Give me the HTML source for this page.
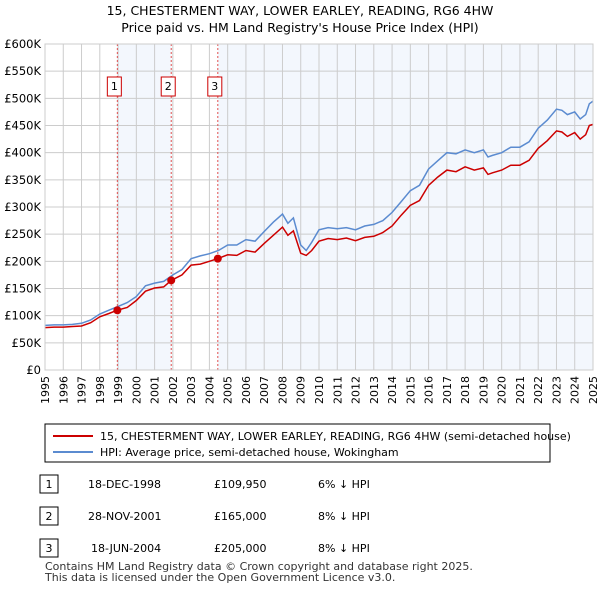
<!DOCTYPE html>
<html><head><meta charset="utf-8"><style>
body{margin:0;width:600px;height:590px;background:#fff;font-family:"Liberation Sans","DejaVu Sans",sans-serif;overflow:hidden}
svg text{font-family:"DejaVu Sans","Liberation Sans",sans-serif}
</style></head><body>
<svg id="c" width="600" height="590">
<text x="300" y="15" text-anchor="middle" font-size="12.5">15, CHESTERMENT WAY, LOWER EARLEY, READING, RG6 4HW</text>
<text x="300" y="32" text-anchor="middle" font-size="12.5">Price paid vs. HM Land Registry's House Price Index (HPI)</text>
<g id="plot"></g>
<rect x="45" y="424" width="505" height="38" fill="#fff" stroke="#000"/>
<line x1="53" y1="436" x2="93" y2="436" stroke="#cc0000" stroke-width="2"/>
<text x="100" y="440" font-size="11">15, CHESTERMENT WAY, LOWER EARLEY, READING, RG6 4HW (semi-detached house)</text>
<line x1="53" y1="452" x2="93" y2="452" stroke="#5b8bd0" stroke-width="2"/>
<text x="100" y="456" font-size="11">HPI: Average price, semi-detached house, Wokingham</text>
<g font-size="11">
<rect x="40" y="475" width="18" height="18" fill="#fff" stroke="#000"/><text x="49" y="488" text-anchor="middle">1</text>
<text x="88" y="488">18-DEC-1998</text><text x="214" y="488">£109,950</text><text x="318" y="488">6% ↓ HPI</text>
<rect x="40" y="507" width="18" height="18" fill="#fff" stroke="#000"/><text x="49" y="520" text-anchor="middle">2</text>
<text x="88" y="520">28-NOV-2001</text><text x="214" y="520">£165,000</text><text x="318" y="520">8% ↓ HPI</text>
<rect x="40" y="539" width="18" height="18" fill="#fff" stroke="#000"/><text x="49" y="552" text-anchor="middle">3</text>
<text x="91" y="552">18-JUN-2004</text><text x="214" y="552">£205,000</text><text x="318" y="552">8% ↓ HPI</text>
</g>
<text x="45" y="570" font-size="11" fill="#333">Contains HM Land Registry data © Crown copyright and database right 2025.</text>
<text x="45" y="581" font-size="11" fill="#333">This data is licensed under the Open Government Licence v3.0.</text>
</svg>
<script>
const hpiYears=[1995,1995.5,1996,1996.5,1997,1997.5,1998,1998.5,1999,1999.5,2000,2000.5,2001,2001.5,2002,2002.5,2003,2003.5,2004,2004.5,2005,2005.5,2006,2006.5,2007,2007.5,2008,2008.3,2008.6,2009,2009.3,2009.6,2010,2010.5,2011,2011.5,2012,2012.5,2013,2013.5,2014,2014.5,2015,2015.5,2016,2016.5,2017,2017.5,2018,2018.5,2019,2019.25,2019.5,2020,2020.5,2021,2021.5,2022,2022.5,2023,2023.3,2023.6,2024,2024.3,2024.6,2024.8,2025];
const hpiValues=[82,83,83,84,86,92,103,110,117,124,135,155,160,163,175,185,205,210,214,220,230,230,240,237,255,272,287,270,280,230,220,235,258,262,260,262,258,265,268,275,290,310,330,340,370,385,400,398,405,400,405,392,395,400,410,410,420,445,460,480,478,470,475,462,470,490,495];
const priceYears=[1995,1995.5,1996,1996.5,1997,1997.5,1998,1998.5,1998.96,1999.5,2000,2000.5,2001,2001.5,2001.91,2002.5,2003,2003.5,2004,2004.46,2005,2005.5,2006,2006.5,2007,2007.5,2008,2008.3,2008.6,2009,2009.3,2009.6,2010,2010.5,2011,2011.5,2012,2012.5,2013,2013.5,2014,2014.5,2015,2015.5,2016,2016.5,2017,2017.5,2018,2018.5,2019,2019.25,2019.5,2020,2020.5,2021,2021.5,2022,2022.5,2023,2023.3,2023.6,2024,2024.3,2024.6,2024.8,2025];
const priceValues=[78,79,79,80,81,87,98,104,110,115,128,145,151,153,165,175,193,195,200,205,212,211,220,217,233,248,263,248,256,215,211,220,237,242,240,243,238,244,246,253,265,285,303,312,340,355,368,365,374,368,372,360,363,368,377,377,386,408,422,440,438,430,437,425,433,450,452];
const saleYears=[1998.96,2001.91,2004.46];
const saleValues=[109.95,165,205];
const saleLabels=["1","2","3"];
const yTicks=[0,50,100,150,200,250,300,350,400,450,500,550,600];
const yTickLabels=["£0","£50K","£100K","£150K","£200K","£250K","£300K","£350K","£400K","£450K","£500K","£550K","£600K"];
const xTicks=[1995,1996,1997,1998,1999,2000,2001,2002,2003,2004,2005,2006,2007,2008,2009,2010,2011,2012,2013,2014,2015,2016,2017,2018,2019,2020,2021,2022,2023,2024,2025];
const L=45,R=593,T=44,B=370;
const X=y=>L+(y-1995)/30*(R-L);
const Y=v=>B-v/600*(B-T);
const g=document.getElementById('plot');
const NS='http://www.w3.org/2000/svg';
function mk(t,a){const e=document.createElementNS(NS,t);for(const k in a)e.setAttribute(k,a[k]);g.appendChild(e);return e;}
let bg=mk('rect',{x:L,y:T,width:R-L,height:B-T,fill:'#fff'});


[[saleYears[0],saleYears[1]],[saleYears[2],2025]].forEach(p=>{
 const r=mk('rect',{x:X(p[0]),y:T,width:X(p[1])-X(p[0]),height:B-T,fill:'#eef3fc',opacity:0.7});
 
 
});
yTicks.forEach((v,i)=>{
 const l=mk('line',{x1:L,x2:R,y1:Y(v),y2:Y(v),stroke:'#ccc'});
 
 
 const t=mk('text',{x:L-4,y:Y(v)+4,'text-anchor':'end','font-size':11.5});
 t.textContent=yTickLabels[i];
 
 
});
xTicks.forEach(v=>{
 const l=mk('line',{x1:X(v),x2:X(v),y1:T,y2:B,stroke:'#ccc'});
 
 
 const tx=X(v)+4,ty=376;
 const t=mk('text',{x:tx,y:ty,'text-anchor':'end','font-size':11,transform:'rotate(-90 '+tx+' '+ty+')'});
 t.textContent=v;
 
 
});
saleYears.forEach((s,i)=>{
 const l=mk('line',{x1:X(s),x2:X(s),y1:T,y2:B,stroke:'#e05050','stroke-dasharray':'2,2'});
 
 
 const cx=X(s)-3;
 const r=mk('rect',{x:cx-7,y:77,width:14,height:19,fill:'#fff',stroke:'#cc0000'});
 
 
 const t=mk('text',{x:cx,y:90,'text-anchor':'middle','font-size':11});
 t.textContent=saleLabels[i];
 
 
});
function line(xs,vs,c,n){
 const p=mk('path',{d:xs.map((x,i)=>(i?'L':'M')+X(x).toFixed(1)+','+Y(vs[i]).toFixed(1)).join(''),fill:'none',stroke:c,'stroke-width':1.5});
 
 
}
line(hpiYears,hpiValues,'#5b8bd0','hpi-line');
line(priceYears,priceValues,'#cc0000','price-line');
saleYears.forEach((s,i)=>{
 const c=mk('circle',{cx:X(s),cy:Y(saleValues[i]),r:4,fill:'#cc0000'});
 
 
});
let ax=mk('rect',{x:L,y:T,width:R-L,height:B-T,fill:'none',stroke:'#ccc'});


</script>
</body></html>
